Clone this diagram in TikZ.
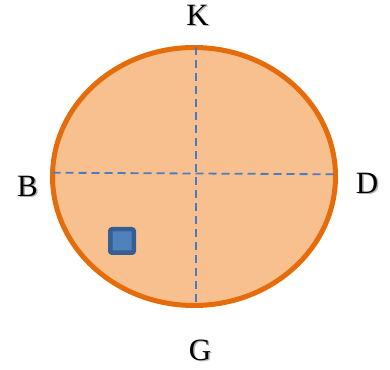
\documentclass[tikz,border=0pt]{standalone}
\usepackage{fontspec}
\setmainfont{Liberation Serif}
\usetikzlibrary{shapes.geometric}
\definecolor{ringfill}{HTML}{F9C08F}
\definecolor{ringline}{HTML}{E46C0A}
\definecolor{dashblue}{HTML}{4A7CC4}
\definecolor{sqfill}{HTML}{4F81BD}
\definecolor{sqline}{HTML}{365F91}
\tikzset{
  lbl/.style={font=\fontsize{31}{31}\selectfont, inner sep=0pt},
  lblshadow/.style={lbl, text=black!30},
  axis/.style={dashblue, line width=1.8pt, dash pattern=on 8pt off 5pt},
}
\newcommand{\shadowlabel}[3]{%
  \node[lblshadow] at ([xshift=1.5pt,yshift=-1.5pt]#2) {#3};
  \node[lbl] (#1) at (#2) {#3};}
\begin{document}
\begin{tikzpicture}[x=1pt,y=1pt]
\useasboundingbox (0,0) rectangle (390,369);
\node[ellipse, draw=ringline, fill=ringfill, line width=5pt, minimum width=283pt, minimum height=258pt, inner sep=0pt] (ring) at (194,192.5) {};
\coordinate (top) at (196,321.5);
\coordinate (bot) at (196,63.5);
\coordinate (lft) at (52.5,196.3);
\coordinate (rgt) at (335.5,194.7);
\draw[axis] (top) -- (bot);
\draw[axis] (lft) -- (rgt);
\node[draw=sqline, fill=sqfill, line width=4.5pt, minimum size=23.5pt, inner sep=0pt, rounded corners=2pt] (sq) at (122,128) {};
\shadowlabel{K}{197.5,354}{K}
\shadowlabel{B}{27.5,183}{B}
\shadowlabel{D}{367,186}{D}
\shadowlabel{G}{200,19}{G}
\end{tikzpicture}
\end{document}
